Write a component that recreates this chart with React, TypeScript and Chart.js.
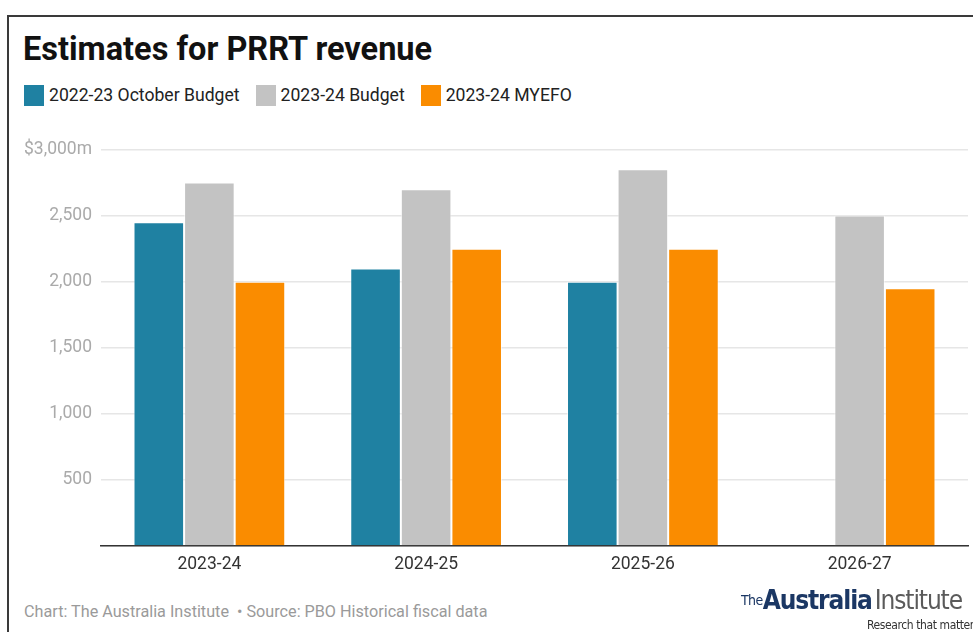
import React, { useEffect, useRef } from "react";
import { Chart, registerables } from "chart.js";

Chart.register(...registerables);

const categories = ["2023-24", "2024-25", "2025-26", "2026-27"];
const seriesNames = ["2022-23 October Budget", "2023-24 Budget", "2023-24 MYEFO"];
const octoberBudget: (number | null)[] = [2450, 2100, 2000, null];
const budget2324: number[] = [2750, 2700, 2850, 2500];
const myefo2324: number[] = [2000, 2250, 2250, 1950];
const seriesColors = ["#1f81a2", "#c3c3c3", "#fa8c00"];
const yTicks = [0, 500, 1000, 1500, 2000, 2500, 3000];

const FONT = "Roboto, 'Noto Sans', sans-serif";
const NARROW = "'Liberation Sans Narrow', 'DejaVu Sans Condensed', sans-serif";

function formatTick(v: number): string {
  if (v === 0) return "";
  const s = v.toLocaleString("en-US");
  return v === 3000 ? "$" + s + "m" : s;
}

export default function App() {
  const ref = useRef<HTMLCanvasElement | null>(null);

  useEffect(() => {
    if (!ref.current) return;
    const chart = new Chart(ref.current, {
      type: "bar",
      data: {
        labels: categories,
        datasets: [
          { label: seriesNames[0], data: octoberBudget, backgroundColor: seriesColors[0], borderColor: "rgba(255,255,255,0.6)", borderWidth: 1 },
          { label: seriesNames[1], data: budget2324, backgroundColor: seriesColors[1], borderColor: "rgba(255,255,255,0.6)", borderWidth: 1 },
          { label: seriesNames[2], data: myefo2324, backgroundColor: seriesColors[2], borderColor: "rgba(255,255,255,0.6)", borderWidth: 1 },
        ],
      },
      options: {
        responsive: false,
        animation: false,
        maintainAspectRatio: false,
        layout: { padding: { top: 19, right: 5, left: 0, bottom: 0 } },
        plugins: {
          legend: { display: false },
          tooltip: { enabled: false },
          title: { display: false },
        },
        datasets: { bar: { barPercentage: 1, categoryPercentage: 0.7 } },
        scales: {
          x: {
            grid: { display: false, drawTicks: false },
            border: { display: true, color: "#333333", width: 1.5 },
            ticks: { color: "#333333", font: { family: FONT, size: 17.5 }, padding: 8 },
            afterFit: (s: any) => { s.height = 40; },
          },
          y: {
            min: 0,
            max: 3000,
            afterBuildTicks: (s: any) => { s.ticks = yTicks.map((v) => ({ value: v })); },
            grid: { color: "#e6e6e6", lineWidth: 1.5, drawTicks: false },
            border: { display: false },
            ticks: {
              color: "#aaaaaa",
              font: { family: FONT, size: 17.5 },
              padding: 9,
              callback: (v: any) => formatTick(Number(v)),
            },
            afterFit: (s: any) => { s.width = 101; },
          },
        },
      },
    });
    return () => chart.destroy();
  }, []);

  return (
    <div style={{ position: "fixed", left: 0, top: 0, width: 973, height: 632, overflow: "hidden", background: "#fff", fontFamily: FONT }}>
      <div style={{ position: "absolute", left: 7, top: 15, width: 1000, height: 700, border: "2px solid #3a3a3a", boxSizing: "border-box" }} />
      <div style={{ position: "absolute", left: 23, top: 29, fontSize: 32.5, fontWeight: 700, color: "#111", lineHeight: "40px" }}>
        Estimates for PRRT revenue
      </div>
      <div style={{ position: "absolute", left: 24, top: 85, display: "flex", alignItems: "center", fontSize: 17.6, color: "#222", lineHeight: "21px" }}>
        {seriesNames.map((n, i) => (
          <div key={n} style={{ display: "flex", alignItems: "center", marginRight: 16 }}>
            <span style={{ display: "inline-block", width: 20, height: 21, background: seriesColors[i], marginRight: 5 }} />
            <span>{n}</span>
          </div>
        ))}
      </div>
      <canvas ref={ref} width={973} height={456} style={{ position: "absolute", left: 0, top: 130, width: 973, height: 456 }} />
      <div style={{ position: "absolute", left: 24, top: 602, fontSize: 16.2, color: "#9a9a9a", lineHeight: "20px", whiteSpace: "pre" }}>
        {"Chart: The Australia Institute  • Source: PBO Historical fiscal data"}
      </div>
      <div style={{ position: "absolute", left: 741, top: 585, whiteSpace: "nowrap", fontFamily: NARROW, lineHeight: "30px" }}>
        <span style={{ fontSize: 14, color: "#1b3764", verticalAlign: "top", letterSpacing: -0.6 }}>The</span>
        <span style={{ fontSize: 26, fontWeight: 700, color: "#1b3764", letterSpacing: -1.1 }}>Australia</span>
        <span style={{ fontSize: 26, color: "#5a5a5a", letterSpacing: -1.1, marginLeft: 3 }}>Institute</span>
      </div>
      <div style={{ position: "absolute", left: 867, top: 618, whiteSpace: "nowrap", fontFamily: NARROW, fontSize: 12, color: "#333", letterSpacing: -0.4 }}>
        Research that matters
      </div>
    </div>
  );
}
